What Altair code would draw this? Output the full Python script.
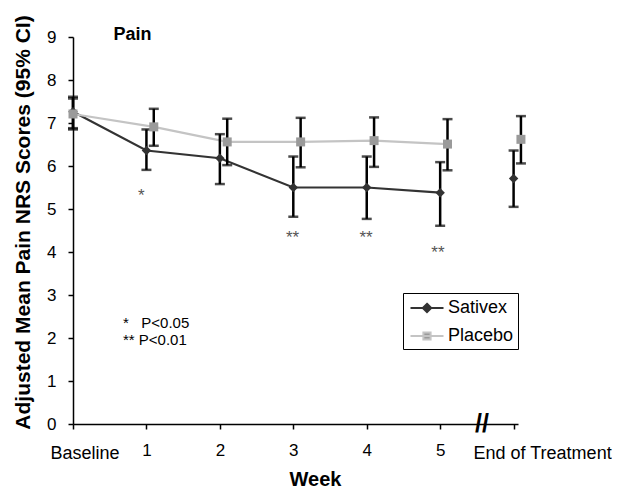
import altair as alt
import pandas as pd

FONT = "Liberation Sans, Arial, sans-serif"
SAT = "#333333"
PLA_LINE = "#c4c4c4"
PLA_PT = "#9a9a9a"

# ---------------- data ----------------
series_names = ["Sativex", "Placebo"]
week_index = [0, 1, 2, 3, 4, 5, 6]
sativex_x = [0, 1, 2, 3, 4, 5, 6]
placebo_x = [0, 1.1, 2.1, 3.1, 4.1, 5.1, 6.1]
sativex_mean = [7.26, 6.36, 6.18, 5.50, 5.50, 5.38, 5.71]
sativex_lo = [6.88, 5.91, 5.58, 4.82, 4.77, 4.61, 5.05]
sativex_hi = [7.61, 6.85, 6.74, 6.22, 6.22, 6.09, 6.36]
placebo_mean = [7.21, 6.91, 6.56, 6.56, 6.59, 6.51, 6.62]
placebo_lo = [6.85, 6.47, 6.02, 5.97, 5.98, 5.90, 6.06]
placebo_hi = [7.57, 7.33, 7.10, 7.12, 7.13, 7.09, 7.16]

x_tick_values = [0, 1, 2, 3, 4, 5, 6]
x_tick_labels = ["Baseline", "1", "2", "3", "4", "5", "End of Treatment"]
y_tick_values = [0, 1, 2, 3, 4, 5, 6, 7, 8, 9]

sig_text = ["*", "**", "**", "**"]
sig_x = [0.93, 2.99, 3.99, 4.97]
sig_y = [5.18, 4.22, 4.22, 3.87]

note_text = ["*\u00a0\u00a0\u00a0P<0.05", "**\u00a0P<0.01"]
note_x = [0.68, 0.68]
note_y = [2.35, 1.95]

panel_title = "Pain"
panel_title_x = 0.55
panel_title_y = 9.05

break_x = 5.57

# ---------------- tables ----------------
rows = []
for i, w in enumerate(week_index):
    rows.append(dict(series="Sativex", week=w, x=sativex_x[i], mean=sativex_mean[i],
                     lo=sativex_lo[i], hi=sativex_hi[i], joined=w <= 5))
for i, w in enumerate(week_index):
    rows.append(dict(series="Placebo", week=w, x=placebo_x[i], mean=placebo_mean[i],
                     lo=placebo_lo[i], hi=placebo_hi[i], joined=w <= 5))
df = pd.DataFrame(rows)

sig_df = pd.DataFrame({"x": sig_x, "y": sig_y, "t": sig_text})
note_df = pd.DataFrame({"x": note_x, "y": note_y, "t": note_text})

x_scale = alt.Scale(domain=[0, 6.06], nice=False, zero=False)
y_scale = alt.Scale(domain=[0, 9], nice=False, zero=True)

x_axis = alt.Axis(
    values=x_tick_values, format="d",
    labelExpr="(datum.value >= 1 && datum.value <= 5) ? datum.label : ''",
    title="Week", titleX=242, titleY=55, titleBaseline="middle", titleAlign="center",
    titleFontSize=20, titleFontWeight="bold", titleFont=FONT, titleColor="black",
    labelFont=FONT, labelFontSize=17, labelColor="black", labelPadding=13,
    tickSize=5, tickWidth=1.5, tickColor="black",
    domainColor="black", domainWidth=1.5, grid=False, labelFlush=False,
)
y_axis = alt.Axis(
    values=y_tick_values, format="d",
    title="Adjusted Mean Pain NRS Scores (95% CI)", titleAngle=270,
    titleX=-50, titleY=185, titleBaseline="middle", titleAlign="center",
    titleFontSize=21, titleFontWeight="bold", titleFont=FONT, titleColor="black",
    labelFont=FONT, labelFontSize=17, labelColor="black", labelPadding=12,
    tickSize=5, tickWidth=1.5, tickColor="black",
    domainColor="black", domainWidth=1.5, grid=False,
)

X = alt.X("x:Q", scale=x_scale, axis=x_axis)
base = alt.Chart(df)

lines = base.transform_filter("datum.joined").mark_line(strokeWidth=2.2).encode(
    x=X,
    y=alt.Y("mean:Q", scale=y_scale, axis=y_axis),
    detail="series:N",
    stroke=alt.condition("datum.series == 'Sativex'", alt.value(SAT), alt.value(PLA_LINE)),
)

bars = base.mark_rule(color="black", strokeWidth=2.5).encode(
    x=alt.X("x:Q"), y=alt.Y("lo:Q"), y2="hi:Q"
)
caps = base.transform_fold(["lo", "hi"], as_=["end", "val"]).mark_tick(
    orient="horizontal", size=10, thickness=2.5, color="black"
).encode(x=alt.X("x:Q"), y=alt.Y("val:Q"))

pts_sat = base.transform_filter("datum.series == 'Sativex'").mark_point(
    filled=True, shape="diamond", size=90, color=SAT, opacity=1
).encode(x=alt.X("x:Q"), y=alt.Y("mean:Q"))
pts_pla = base.transform_filter("datum.series == 'Placebo'").mark_point(
    filled=True, shape="square", size=81, color=PLA_PT, opacity=1
).encode(x=alt.X("x:Q"), y=alt.Y("mean:Q"))

path_d = "M-1.65,0H1.65M0,-0.42L0.42,0L0,0.42L-0.42,0Z"
path_s = "M-1.65,0H1.65M-0.36,-0.36H0.36V0.36H-0.36Z"
leg = alt.Legend(
    title=None, orient="none", legendX=330, legendY=256,
    strokeColor="black", padding=4, symbolSize=400, symbolStrokeWidth=2,
    symbolOffset=9, labelOffset=10, labelFontSize=18, labelFont=FONT,
    labelColor="black", rowPadding=8, symbolOpacity=1,
)
legend_layer = base.transform_filter("false").mark_point(filled=True).encode(
    x=alt.X("x:Q"), y=alt.Y("mean:Q"),
    fill=alt.Fill("series:N", scale=alt.Scale(domain=series_names, range=[SAT, PLA_PT]), legend=leg),
    stroke=alt.Stroke("series:N", scale=alt.Scale(domain=series_names, range=[SAT, PLA_LINE]), legend=leg),
    shape=alt.Shape("series:N", scale=alt.Scale(domain=series_names, range=[path_d, path_s]), legend=leg),
)

sig = alt.Chart(sig_df).mark_text(
    font=FONT, fontSize=17, color="#555555", baseline="alphabetic", align="center"
).encode(x=alt.X("x:Q"), y=alt.Y("y:Q"), text="t:N")

notes = alt.Chart(note_df).mark_text(
    font=FONT, fontSize=15, color="black", baseline="middle", align="left"
).encode(x=alt.X("x:Q"), y=alt.Y("y:Q"), text="t:N")

title_txt = alt.Chart(pd.DataFrame({"x": [panel_title_x], "y": [panel_title_y], "t": [panel_title]})).mark_text(
    font=FONT, fontSize=18, fontWeight="bold", color="black", baseline="middle", align="left"
).encode(x=alt.X("x:Q"), y=alt.Y("y:Q"), text="t:N")

lab_df = pd.DataFrame({"x": [x_tick_values[0], x_tick_values[-1]], "y": [0, 0],
                       "t": [x_tick_labels[0], x_tick_labels[-1]]})
lab_base = alt.Chart(lab_df).mark_text(
    font=FONT, fontSize=18, color="black", baseline="top", align="center", dy=21, dx=12
).encode(x=alt.X("x:Q"), y=alt.Y("y:Q"), text="t:N").transform_filter("datum.x == 0")
lab_end = alt.Chart(lab_df).mark_text(
    font=FONT, fontSize=18, color="black", baseline="top", align="center", dy=21, dx=29
).encode(x=alt.X("x:Q"), y=alt.Y("y:Q"), text="t:N").transform_filter("datum.x > 0")

brk = alt.Chart(pd.DataFrame({"x": [break_x], "y": [0], "t": ["//"]})).mark_text(
    font=FONT, fontSize=25, fontWeight="bold", color="black", baseline="middle", align="center"
).encode(x=alt.X("x:Q"), y=alt.Y("y:Q"), text="t:N")

chart = alt.layer(
    lines, bars, caps, pts_sat, pts_pla, legend_layer, sig, notes, title_txt, lab_base, lab_end, brk
).properties(
    width=445, height=387,
    autosize=alt.AutoSizeParams(type="none"),
    padding={"left": 65, "top": 29, "right": 94, "bottom": 65},
).configure_view(stroke=None)

chart.save("out.html", embed_options={"renderer": "svg", "actions": False})
